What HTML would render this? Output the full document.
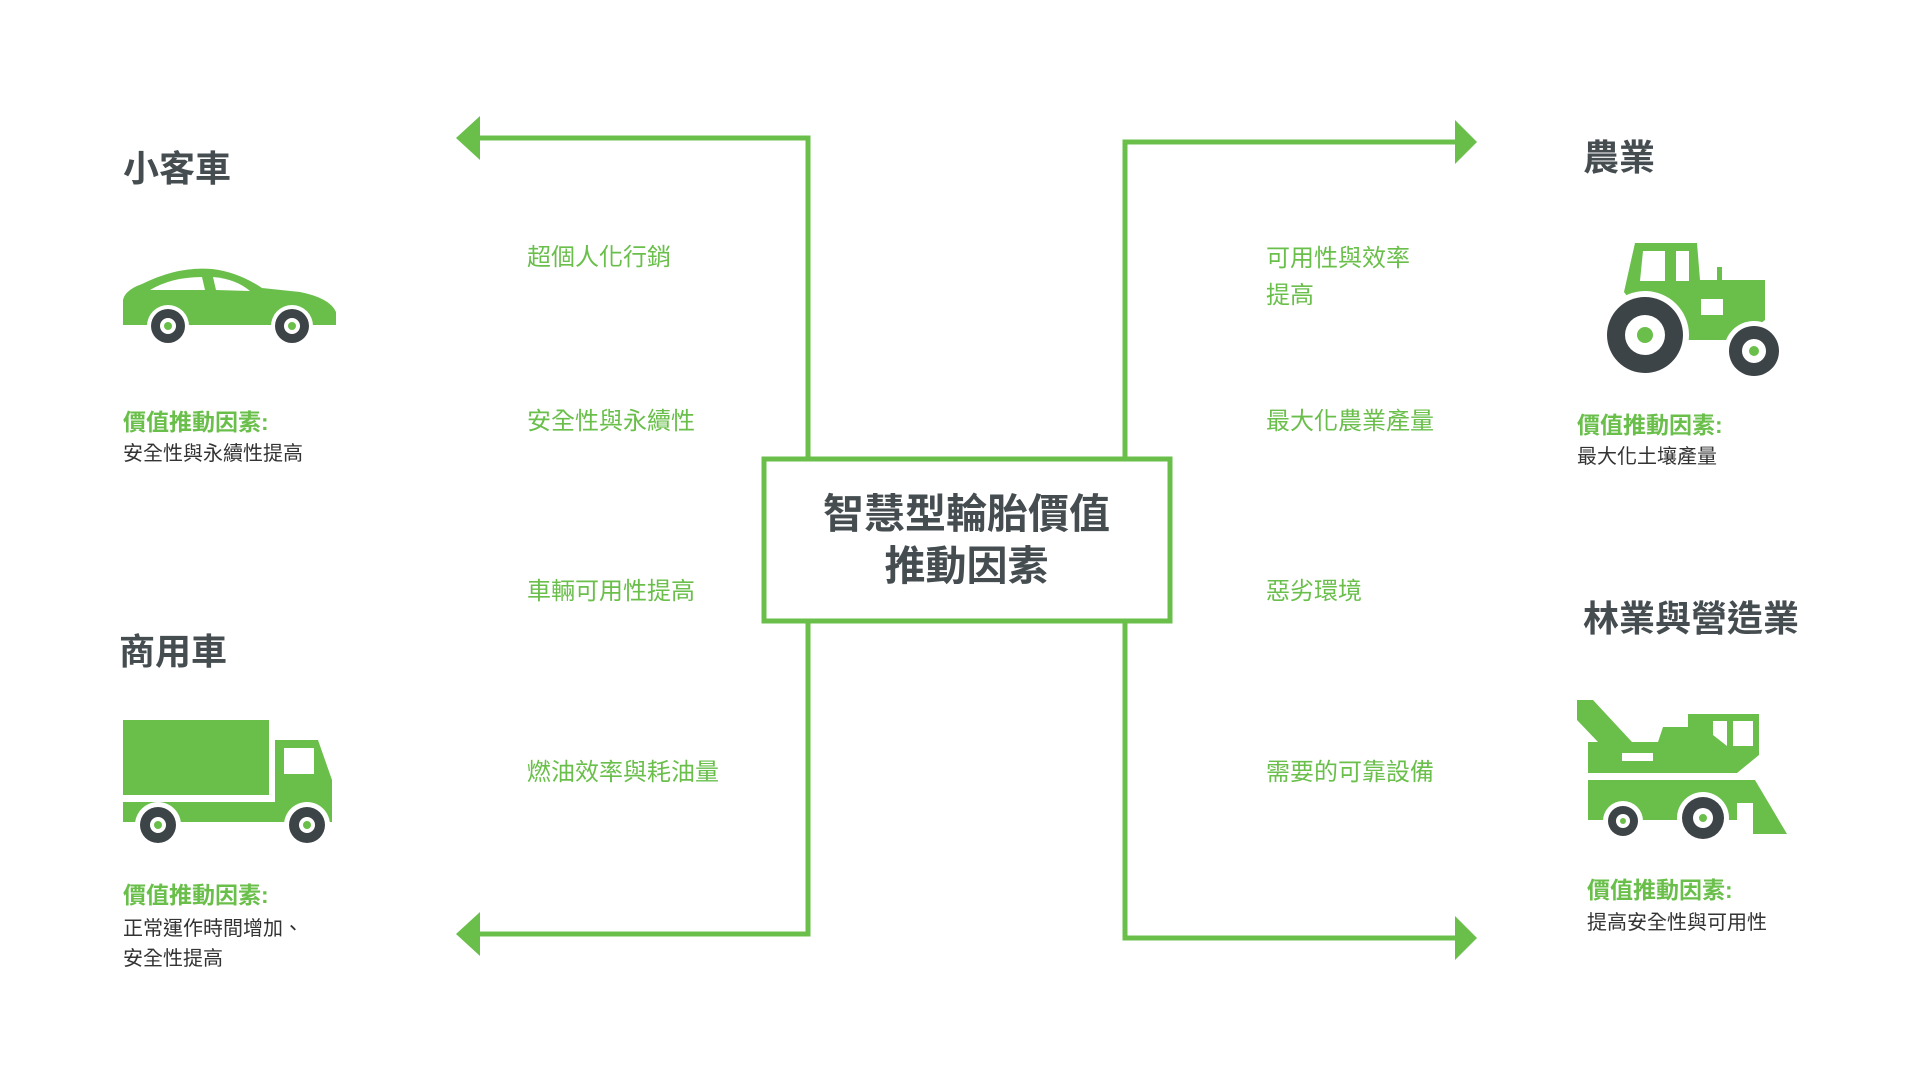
<!DOCTYPE html>
<html><head><meta charset="utf-8"><style>
html,body{margin:0;padding:0;background:#fff;}
body{width:1920px;height:1080px;position:relative;overflow:hidden;font-family:"Liberation Sans","Noto Sans CJK TC",sans-serif;}
.t{position:absolute;white-space:nowrap;line-height:1;}
.h{color:#454d50;font-size:36px;font-weight:bold;}
.g{color:#6abf4b;font-size:24px;}
.vb{color:#6abf4b;font-size:23px;font-weight:bold;}
.vd{color:#333;font-size:20px;line-height:30px;}
.c{color:#454d50;font-size:41px;font-weight:bold;text-align:center;width:409px;left:762px;line-height:52px;}
</style></head><body>
<svg width="1920" height="1080" style="position:absolute;left:0;top:0">
<g stroke="#6abf4b" stroke-width="5" fill="none">
<polyline points="478,138 808,138 808,458"/>
<polyline points="478,934 808,934 808,622"/>
<polyline points="1462,142 1125,142 1125,458"/>
<polyline points="1462,938 1125,938 1125,622"/>
<rect x="764" y="459" width="406" height="162"/>
</g>
<g fill="#6abf4b">
<polygon points="456,138 480,116 480,160"/>
<polygon points="456,934 480,912 480,956"/>
<polygon points="1477,142 1455,120 1455,164"/>
<polygon points="1477,938 1455,916 1455,960"/>
</g>
<g>
<path d="M123,325 L123,300 Q125,290 142,284 Q178,266 212,269 Q238,272 262,288 L300,292 Q330,298 336,312 L336,325 Z" fill="#6abf4b"/>
<path d="M150,290 Q172,277 202,277 L205,290 Z" fill="#fff"/>
<path d="M213,277 Q236,279 250,291 L216,290 Z" fill="#fff"/>
<circle cx="168" cy="326" r="21" fill="#fff"/><circle cx="168" cy="326" r="17" fill="#3d4447"/><circle cx="168" cy="326" r="8" fill="#fff"/><circle cx="168" cy="326" r="4" fill="#6abf4b"/>
<circle cx="292" cy="326" r="21" fill="#fff"/><circle cx="292" cy="326" r="17" fill="#3d4447"/><circle cx="292" cy="326" r="8" fill="#fff"/><circle cx="292" cy="326" r="4" fill="#6abf4b"/>
</g>
<g>
<rect x="123" y="720" width="146" height="75" fill="#6abf4b"/>
<path d="M275,740 L318,740 L332,780 L332,822 L275,822 Z" fill="#6abf4b"/>
<rect x="284" y="748" width="30" height="26" fill="#fff"/>
<rect x="123" y="802" width="209" height="20" fill="#6abf4b"/>
<circle cx="158" cy="825" r="23" fill="#fff"/><circle cx="158" cy="825" r="18" fill="#3d4447"/><circle cx="158" cy="825" r="8" fill="#fff"/><circle cx="158" cy="825" r="4" fill="#6abf4b"/>
<circle cx="307" cy="825" r="23" fill="#fff"/><circle cx="307" cy="825" r="18" fill="#3d4447"/><circle cx="307" cy="825" r="8" fill="#fff"/><circle cx="307" cy="825" r="4" fill="#6abf4b"/>
</g>
<g>
<path d="M1635,243 L1697,243 L1700,280 L1765,280 L1765,320 L1740,340 L1660,340 L1624,292 Z" fill="#6abf4b"/>
<rect x="1717" y="267" width="5" height="14" fill="#6abf4b"/>
<path d="M1643,251 L1665,251 L1665,281 L1640,281 Z" fill="#fff"/>
<rect x="1676" y="251" width="13" height="30" fill="#fff"/>
<rect x="1701" y="299" width="22" height="16" fill="#fff"/>
<circle cx="1645" cy="335" r="44" fill="#fff"/><circle cx="1645" cy="335" r="38" fill="#3d4447"/><circle cx="1645" cy="335" r="20" fill="#fff"/><circle cx="1645" cy="335" r="8" fill="#6abf4b"/>
<circle cx="1754" cy="351" r="30" fill="#fff"/><circle cx="1754" cy="351" r="25" fill="#3d4447"/><circle cx="1754" cy="351" r="12" fill="#fff"/><circle cx="1754" cy="351" r="5" fill="#6abf4b"/>
</g>
<g>
<polygon points="1577,700 1593,700 1632,742 1658,742 1663,727 1688,727 1688,714 1759,714 1759,755 1737,773 1588,773 1588,742 1598,742 1577,720" fill="#6abf4b"/>
<polygon points="1713,721 1727,721 1727,746 1713,735" fill="#fff"/>
<rect x="1733" y="721" width="20" height="25" fill="#fff"/>
<rect x="1622" y="753" width="31" height="8" fill="#fff"/>
<polygon points="1588,780 1755,780 1787,834 1753,834 1753,803 1737,803 1737,820 1588,820" fill="#6abf4b"/>
<circle cx="1623" cy="821" r="20" fill="#fff"/><circle cx="1623" cy="821" r="15" fill="#3d4447"/><circle cx="1623" cy="821" r="7" fill="#fff"/><circle cx="1623" cy="821" r="3" fill="#6abf4b"/>
<circle cx="1703" cy="818" r="26" fill="#fff"/><circle cx="1703" cy="818" r="21" fill="#3d4447"/><circle cx="1703" cy="818" r="10" fill="#fff"/><circle cx="1703" cy="818" r="4" fill="#6abf4b"/>
</g>
</svg>

<div class="t h" style="left:123px;top:151px">小客車</div>
<div class="t h" style="left:119px;top:634px">商用車</div>
<div class="t h" style="left:1583px;top:140px">農業</div>
<div class="t h" style="left:1583px;top:601px">林業與營造業</div>

<div class="t vb" style="left:123px;top:411px">價值推動因素:</div>
<div class="t vd" style="left:123px;top:439px">安全性與永續性提高</div>
<div class="t vb" style="left:123px;top:884px">價值推動因素:</div>
<div class="t vd" style="left:123px;top:914px">正常運作時間增加、<br>安全性提高</div>
<div class="t vb" style="left:1577px;top:414px">價值推動因素:</div>
<div class="t vd" style="left:1577px;top:442px">最大化土壤產量</div>
<div class="t vb" style="left:1587px;top:879px">價值推動因素:</div>
<div class="t vd" style="left:1587px;top:908px">提高安全性與可用性</div>

<div class="t g" style="left:527px;top:246px">超個人化行銷</div>
<div class="t g" style="left:527px;top:410px">安全性與永續性</div>
<div class="t g" style="left:527px;top:580px">車輛可用性提高</div>
<div class="t g" style="left:527px;top:761px">燃油效率與耗油量</div>
<div class="t g" style="left:1266px;top:240px;line-height:37px">可用性與效率<br>提高</div>
<div class="t g" style="left:1266px;top:410px">最大化農業產量</div>
<div class="t g" style="left:1266px;top:580px">惡劣環境</div>
<div class="t g" style="left:1266px;top:761px">需要的可靠設備</div>

<div class="t c" style="top:488px">智慧型輪胎價值<br>推動因素</div>
</body></html>
